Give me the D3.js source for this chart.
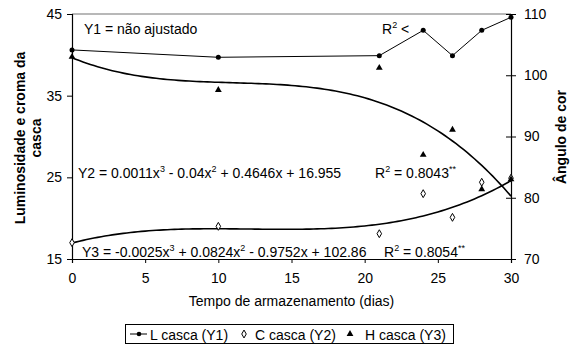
<!DOCTYPE html>
<html>
<head>
<meta charset="utf-8" />
<script src="https://cdn.jsdelivr.net/npm/d3@7"></script>
<style>
  body { margin: 0; background: #fff; }
  text { font-family: "Liberation Sans", Arial, sans-serif; fill: #000; }
</style>
</head>
<body>
<div id="chart"></div>
<script>
// Data
const days = [0, 10, 21, 24, 26, 28, 30];
const lCasca = [40.6, 39.7, 39.9, 43.0, 39.9, 43.0, 44.6];   // Y1, left axis
const cCasca = [17.0, 19.0, 18.1, 23.0, 20.1, 24.4, 24.9];   // Y2, left axis
const hCasca = [103.0, 97.6, 101.2, 87.0, 91.1, 81.4, 83.0]; // Y3, right axis

// trendline coefficients as printed (x^3, x^2, x, 1)
const fitY2 = [0.0011, -0.04, 0.4646, 16.955];
const fitY3 = [-0.0025, 0.0824, -0.9752, 102.86];

const xTicks = [0, 5, 10, 15, 20, 25, 30];
const leftTicks = [15, 25, 35, 45];
const rightTicks = [70, 80, 90, 100, 110];

const width = 574, height = 347;
const margin = { top: 14, right: 63, bottom: 88, left: 72 };

const svg = d3.select("#chart").append("svg")
    .attr("width", width)
    .attr("height", height);

const x = d3.scaleLinear().domain([0, 30]).range([margin.left, width - margin.right]);
const yL = d3.scaleLinear().domain([15, 45]).range([height - margin.bottom, margin.top]);
const yR = d3.scaleLinear().domain([70, 110]).range([height - margin.bottom, margin.top]);

// plot area border (grey top)
svg.append("line")
    .attr("x1", x(0)).attr("x2", x(30))
    .attr("y1", yL(45)).attr("y2", yL(45))
    .attr("stroke", "#b8b8b8").attr("stroke-width", 2);

// axes
const xAxis = svg.append("g")
    .attr("transform", `translate(0,${yL(15)})`)
    .call(d3.axisBottom(x).tickValues(xTicks).tickSize(4).tickPadding(10));
const leftAxis = svg.append("g")
    .attr("transform", `translate(${x(0)},0)`)
    .call(d3.axisLeft(yL).tickValues(leftTicks).tickSize(5).tickPadding(5));
const rightAxis = svg.append("g")
    .attr("transform", `translate(${x(30)},0)`)
    .call(d3.axisRight(yR).tickValues(rightTicks).tickSize(5).tickPadding(8));

[xAxis, leftAxis, rightAxis].forEach(g => {
    g.select(".domain").attr("stroke", "#000").attr("stroke-width", 1.2);
    g.selectAll(".tick line").attr("stroke", "#000");
    g.selectAll("text").style("font-size", "14px")
        .style("font-family", "Liberation Sans, Arial, sans-serif");
});
// right axis ticks cross the axis
rightAxis.selectAll(".tick line").attr("x1", -5);

// axis titles
svg.append("text")
    .attr("x", x(15)).attr("y", 306)
    .attr("text-anchor", "middle")
    .style("font-size", "14px")
    .text("Tempo de armazenamento (dias)");

const leftTitle = svg.append("text")
    .attr("transform", `translate(25,138) rotate(-90)`)
    .attr("text-anchor", "middle")
    .style("font-size", "14px").style("font-weight", "bold");
leftTitle.append("tspan").attr("x", 0).attr("dy", 0).text("Luminosidade e croma da");
leftTitle.append("tspan").attr("x", 0).attr("dy", 16).text("casca");

svg.append("text")
    .attr("transform", `translate(566,137) rotate(-90)`)
    .attr("text-anchor", "middle")
    .style("font-size", "14px").style("font-weight", "bold")
    .text("Ângulo de cor");

// trendlines
const poly = c => t => c[0] * t * t * t + c[1] * t * t + c[2] * t + c[3];
const xs = d3.range(0, 30.01, 0.25);
const f2 = poly(fitY2), f3 = poly(fitY3);

svg.append("path")
    .datum(xs)
    .attr("fill", "none").attr("stroke", "#000").attr("stroke-width", 1.6)
    .attr("d", d3.line().x(d => x(d)).y(d => yL(f2(d))));
svg.append("path")
    .datum(xs)
    .attr("fill", "none").attr("stroke", "#000").attr("stroke-width", 1.6)
    .attr("d", d3.line().x(d => x(d)).y(d => yR(f3(d))));

// Y1 line
svg.append("path")
    .datum(days)
    .attr("fill", "none").attr("stroke", "#000").attr("stroke-width", 1)
    .attr("d", d3.line().x(d => x(d)).y((d, i) => yL(lCasca[i])));
svg.selectAll(".ldot").data(days).enter().append("circle")
    .attr("cx", d => x(d)).attr("cy", (d, i) => yL(lCasca[i]))
    .attr("r", 2.5).attr("fill", "#000");

// C points (open diamonds)
const diamond = d3.symbol().type(d3.symbolDiamond).size(18);
svg.selectAll(".cpt").data(days).enter().append("path")
    .attr("d", diamond)
    .attr("transform", (d, i) => `translate(${x(d)},${yL(cCasca[i])})`)
    .attr("fill", "#fff").attr("stroke", "#000").attr("stroke-width", 1);

// H points (filled triangles)
const tri = d3.symbol().type(d3.symbolTriangle).size(20);
svg.selectAll(".hpt").data(days).enter().append("path")
    .attr("d", tri)
    .attr("transform", (d, i) => `translate(${x(d)},${yR(hCasca[i])})`)
    .attr("fill", "#000");

// annotations: strings are normal text, one-element arrays are superscripts
const note = (tx, ty, parts) => {
    const t = svg.append("text").attr("x", tx).attr("y", ty).style("font-size", "14px");
    let back = 0;
    parts.forEach(p => {
        if (Array.isArray(p)) {
            t.append("tspan").attr("dy", -6 + back).style("font-size", "9px").text(p[0]);
            back = 6;
        } else {
            t.append("tspan").attr("dy", back).text(p);
            back = 0;
        }
    });
    return t;
};
note(84, 34, ["Y1 = não ajustado"]);
note(382, 34, ["R", ["2"], " <"]);
note(78, 178, ["Y2 = 0.0011x", ["3"], " - 0.04x", ["2"], " + 0.4646x + 16.955"]);
note(375, 178, ["R", ["2"], " = 0.8043", ["**"]]);
note(82, 257, ["Y3 = -0.0025x", ["3"], " + 0.0824x", ["2"], " - 0.9752x + 102.86"]);
note(384, 257, ["R", ["2"], " = 0.8054", ["**"]]);

// legend
const lg = svg.append("g");
lg.append("rect").attr("x", 125.5).attr("y", 324.5).attr("width", 328).attr("height", 19)
    .attr("fill", "#fff").attr("stroke", "#000").attr("stroke-width", 1);
lg.append("line").attr("x1", 130).attr("x2", 147).attr("y1", 334).attr("y2", 334).attr("stroke", "#000");
lg.append("circle").attr("cx", 139).attr("cy", 334).attr("r", 2.3).attr("fill", "#000");
lg.append("text").attr("x", 150).attr("y", 340).style("font-size", "14px").text("L casca (Y1)");
lg.append("path").attr("d", diamond).attr("transform", "translate(244,334)")
    .attr("fill", "#fff").attr("stroke", "#000");
lg.append("text").attr("x", 255).attr("y", 340).style("font-size", "14px").text("C casca (Y2)");
lg.append("path").attr("d", tri).attr("transform", "translate(350,334)").attr("fill", "#000");
lg.append("text").attr("x", 365).attr("y", 340).style("font-size", "14px").text("H casca (Y3)");
</script>
</body>
</html>
